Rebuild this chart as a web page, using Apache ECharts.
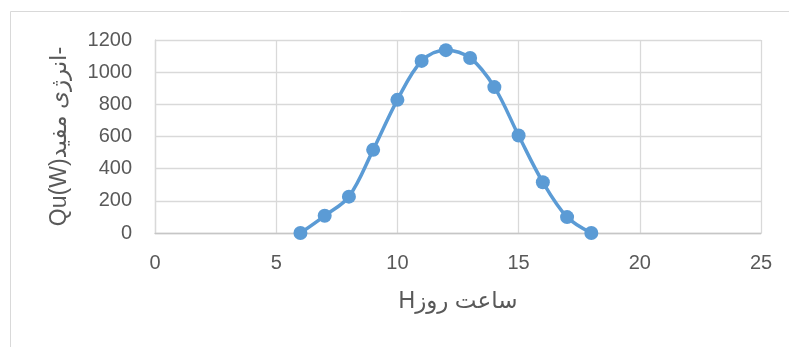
<!DOCTYPE html>
<html>
<head>
<meta charset="utf-8">
<script src="https://cdn.jsdelivr.net/npm/echarts@6/dist/echarts.min.js"></script>
<style>
  html, body { margin: 0; padding: 0; background: #ffffff; }
  #chart { width: 789px; height: 347px; }
</style>
</head>
<body>
<div id="chart"></div>
<script>
// Hour of day
const hours = [6, 7, 8, 9, 10, 11, 12, 13, 14, 15, 16, 17, 18];
// Useful energy Qu (W)
const usefulEnergy = [0, 107, 226, 517, 828, 1070, 1137, 1088, 907, 606, 316, 99, 0];

const xTitle = 'Hساعت روز';
const yTitle = 'Qu(W)انرژی مفید-';

const textColor = '#595959';
const fontFamily = '"Liberation Sans", Arial, "DejaVu Sans", sans-serif';

const chart = echarts.init(document.getElementById('chart'), null, { renderer: 'canvas' });

chart.setOption({
  backgroundColor: '#ffffff',
  animation: false,
  graphic: [{
    type: 'rect',
    shape: { x: 10.5, y: 11.5, width: 900, height: 500 },
    style: { fill: 'none', stroke: '#d9d9d9', lineWidth: 1 },
    silent: true,
    z: -10
  }],
  grid: { left: 155, right: 28, top: 40, bottom: 114, containLabel: false },
  xAxis: {
    type: 'value',
    min: 0, max: 25, interval: 5,
    name: xTitle,
    nameLocation: 'middle',
    nameGap: 57,
    nameTextStyle: { color: textColor, fontSize: 23, fontFamily: fontFamily },
    axisLine: { show: true, lineStyle: { color: '#c6c6c6', width: 1.3 } },
    axisTick: { show: false },
    axisLabel: {
      color: textColor, fontSize: 20, fontFamily: fontFamily, margin: 20,
      formatter: v => String(v)
    },
    splitLine: { show: true, lineStyle: { color: '#d9d9d9', width: 1.3 } }
  },
  yAxis: {
    type: 'value',
    min: 0, max: 1200, interval: 200,
    name: yTitle,
    nameLocation: 'middle',
    nameRotate: 90,
    nameGap: 84,
    nameTextStyle: { color: textColor, fontSize: 23, fontFamily: fontFamily },
    axisLine: { show: true, lineStyle: { color: '#d9d9d9', width: 1.3 } },
    axisTick: { show: false },
    axisLabel: {
      color: textColor, fontSize: 20, fontFamily: fontFamily, margin: 23,
      formatter: v => String(v)
    },
    splitLine: { show: true, lineStyle: { color: '#d9d9d9', width: 1.3 } }
  },
  series: [{
    type: 'line',
    data: hours.map((h, i) => [h, usefulEnergy[i]]),
    smooth: 0.35,
    symbol: 'circle',
    symbolSize: 14,
    lineStyle: { color: '#5b9bd5', width: 3.5 },
    itemStyle: { color: '#5b9bd5', borderColor: '#5b9bd5', borderWidth: 0 },
    clip: false
  }]
});
</script>
</body>
</html>
